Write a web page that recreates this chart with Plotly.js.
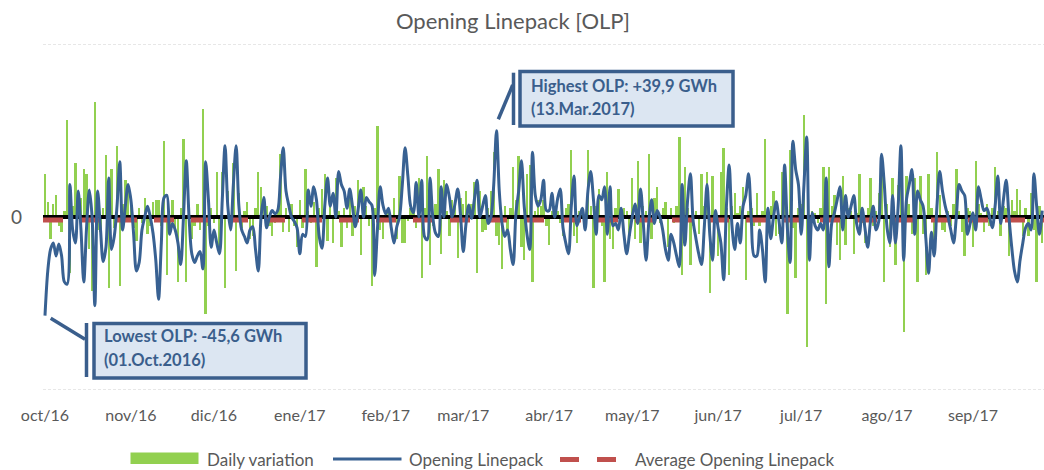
<!DOCTYPE html>
<html><head><meta charset="utf-8">
<script src="https://cdn.plot.ly/plotly-3.0.1.min.js"></script>
<style>html,body{margin:0;padding:0;background:#fff}#chart{width:1044px;height:470px}</style>
</head><body><div id="chart"></div>
<script>
// ---- Opening Linepack (GWh), one value per day from 01.Oct.2016 ----
const olpOct = [-45.6,-25,-15,-12,-18,-12.5,-18,-30,-31,15,-6,-12,12,-6,-30,-5,12.5,0,-41,12,-5,-20.6,-14,18,-15,-9,5,25.5,-6,5,15];
const olpNov = [8,-8,-25,-21,-6,0,5,0,-7.5,-20,-38,-12,9,10,-8,-3,-6,-12,-22,0,26,0,-17,-21,-18,-16,-24,25.5,8,-14];
const olpDec = [-6,-12,-17,8,33,5,-6,15,33,5,-6,-9,-12,-6,-4.5,-15,-25,0,9,-5,0,3,1.5,3,18,32,12,5.5,0,-2,-5];
const olpJan = [-17,-8,-9,12.5,5,14,8,-9,-14.5,5,18,5,11,0,21,15,12,4,13,5,-4.5,3,12.5,0,9,7,5.5,-27,-6,14,5.5];
const olpFeb = [1.5,4,-5,-12,-4.5,0,15,32,19,5,2,16,0,17,-9,-10.5,18,0,-7.5,-9,14,0,15,9,0,6,13,1];
const olpMar = [-16,-3,5.5,-0.6,8,17,0,5,10,-3,0,15,39.9,12,-3,-9,-6,-15,-22,1.5,12,26,5,-8,-15,30,10,5,8,17,3];
const olpApr = [3,11,0,8,13,-5,-12,-17,5,19,-4,0,4,-6,12,21,8,-8,10,8,14,-8,14,-4,-3,-6,4,-8,-17,-8];
const olpMay = [0,6,-3,13,-3,-20,-2,8,-3,3,0,-6,-15,-20,-8,-12,-18,-23,15,-13,8,20,-2,-10,-17,-22,-5,15,-8,-20,3];
const olpJun = [-5,-12,-29,5,24,-4,-15,-3,-12,5,10,20,-2,-18,-18,-6,-15,-30,4,-10,0,7,-2,-12,24,-5,-21,35,22,15];
const olpJul = [-8,15,37,-20,2,-4,-6,-3,-6,18,-23,-3,2,8,14,-6,10,0,5,10,-3,-8,4,-5,-14,-2,5,-6,-2,29,15];
const olpAug = [-5,-12,10,-12,5,33,-20,8,15,22,-8,12,8,5,-10,-26,-7,-18,5,21,12,5,0,-6,-12,0,15,12,10,-8,-3];
const olpSep = [2,-6,14,8,3,4,0,-5,5,19,-3,8,17,0,-14,-25,-30,-20,-12,-5,-3,-6,20,5,-8,3];

// ---- Daily variation (GWh) ----
const varOct = [20,7,-10,6,10,-4,-7,3,45,-26,5,25,12,9,22,20,-15,-34,53,-6,-7,4,28.6,-33,22,-5,33,-32,6,17,12];
const varNov = [9,-5,-11,4,-3,9,-8,-4,7,8,8,-4,35,-27,-6,8,-5,-30,4,36,-30,5,-10,-4,6,-6,50,-45,-4,4];
const varDec = [-3,21,-14,21,-33,12,-4,25,-25,11,-5,3,7,-10,-9,4,21,14,9,5,-4,-9,-3,5,29,-7,4,-7,6,-4,-14];
const varJan = [8,-5,22,3,-3,7,-23,4,13,20,-11,6,-12,18,3,-14,4,-5,12,-9,5,17,-17.5,14,5,-4,-32,4,42,-6,-10];
const varFeb = [3,2,-4,9,-10,19,-12,-12,-2,4,3,-5,18,-28,4,28,-22,-4,6,22,-17,17,3,-9,8,6,-19,9];
const varMar = [6,12,4,6,16,-26,12,-7,-6,4,12,30,-9,-13,-24,5,-8,4,23,8,28,-14,-20,20,24,-30,3,8,5,8,-4];
const varApr = [-13,3,5,3,-3,-9,4,6,31,-9,-12,3,2,-6,31,5,-33,5,13,-4,-30,21,-10,-15,4,13,4,4,3,-9];
const varMay = [18,-10,26,-12,5,3,29,-10,9,14,-3,4,7,-14,4,-3,5,37,-27,23,4,-22,-4,3,-8,20,5,21,-35,19,3];
const varJun = [-18,21,32,4,-27,5,11,2,5,14,-29,3,4,-4,11,-4,3,36,-3,5,12,-9,-8,21,6,-45,31,-5,-28,4];
const varJul = [6,47,-60,-2,3,2,-3,4,23,-40,23,5,10,-13,-20,19,-13,4,3,-17,2,20,-3,-12,4,18,-4,3,11,23,-30];
const varAug = [6,-14,18,-22,15,30,-53,19,6,-8,18,-30,19,-8,-27,20,4,-15,30,10,-6,-7,3,-4,6,22,3,-7,-18,4,3];
const varSep = [-14,26,6,2,-7,6,-4,4,23,3,-9,5,4,-18,8,3,13,8,-9,4,-9,11,-6,-30,5,-12];

const averageOLP = -1.4;
const axisLimits = [-80, 80];
const monthTickVals = ['2016-10-01','2016-11-01','2016-12-01','2017-01-01','2017-02-01','2017-03-01','2017-04-01','2017-05-01','2017-06-01','2017-07-01','2017-08-01','2017-09-01'];
const monthTickText = ['oct/16','nov/16','dic/16','ene/17','feb/17','mar/17','abr/17','may/17','jun/17','jul/17','ago/17','sep/17'];
const seriesNames = ['Daily variation','Opening Linepack','Average Opening Linepack'];
const lowestText = ['Lowest OLP: -45,6 GWh','(01.Oct.2016)'];
const highestText = ['Highest OLP: +39,9 GWh','(13.Mar.2017)'];
const chartTitle = 'Opening Linepack [OLP]';

const olp = [].concat(olpOct,olpNov,olpDec,olpJan,olpFeb,olpMar,olpApr,olpMay,olpJun,olpJul,olpAug,olpSep);
const dailyVar = [].concat(varOct,varNov,varDec,varJan,varFeb,varMar,varApr,varMay,varJun,varJul,varAug,varSep);
function dayString(i){ return new Date(Date.UTC(2016,9,1+i)).toISOString().slice(0,10); }
const dates = olp.map((_,i)=>dayString(i));
const xStart = '2016-09-30 06:43', xEnd = '2017-09-26 15:36';

// pixel -> paper helpers for annotations / callouts
const L=43, R=1044, T=44, B=390;
const px = x => (x-L)/(R-L);
const py = y => (B-y)/(B-T);
const boxBlue = '#3a5e8c', grey = '#595959';

const traces = [
  {type:'bar', x:dates, y:dailyVar, name:seriesNames[0], marker:{color:'#92d050'}, width:0.85*86400000, showlegend:false, hoverinfo:'x+y'},
  {type:'scatter', mode:'lines', x:[xStart,xEnd], y:[0,0], line:{color:'#000000', width:4}, showlegend:false, hoverinfo:'skip'},
  {type:'scatter', mode:'lines', x:[xStart,xEnd], y:[averageOLP,averageOLP], name:seriesNames[2], line:{color:'#c0504d', width:5, dash:'20px,17px'}, showlegend:false},
  {type:'scatter', mode:'lines', x:dates, y:olp, name:seriesNames[1], line:{color:'#386192', width:3, shape:'spline', smoothing:0.9}, showlegend:false}
];

const shapes = [
  // dashed gridlines at the axis limits
  {type:'line', layer:'below', xref:'paper', yref:'y', x0:0, x1:1, y0:axisLimits[1], y1:axisLimits[1], line:{color:'#d0d0d0', width:1.2, dash:'3px,2px'}},
  {type:'line', layer:'below', xref:'paper', yref:'y', x0:0, x1:1, y0:axisLimits[0], y1:axisLimits[0], line:{color:'#d0d0d0', width:1.2, dash:'3px,2px'}},
  // low callout
  {type:'line', xref:'paper', yref:'paper', x0:px(50.7), y0:py(318.3), x1:px(85), y1:py(339.3), line:{color:boxBlue, width:3.5}},
  {type:'line', xref:'paper', yref:'paper', x0:px(86.5), y0:py(323), x1:px(86.5), y1:py(377), line:{color:boxBlue, width:3.5}},
  {type:'rect', xref:'paper', yref:'paper', x0:px(94), y0:py(378), x1:px(306), y1:py(323.5), fillcolor:'#dce6f2', line:{color:boxBlue, width:3.5}},
  // high callout
  {type:'line', xref:'paper', yref:'paper', x0:px(498.3), y0:py(119.3), x1:px(512.7), y1:py(85), line:{color:boxBlue, width:3.5}},
  {type:'line', xref:'paper', yref:'paper', x0:px(513.5), y0:py(72.7), x1:px(513.5), y1:py(125), line:{color:boxBlue, width:3.5}},
  {type:'rect', xref:'paper', yref:'paper', x0:px(520), y0:py(126), x1:px(733), y1:py(71.5), fillcolor:'#dce6f2', line:{color:boxBlue, width:3.5}},
  // legend symbols
  {type:'rect', xref:'paper', yref:'paper', x0:px(130.5), y0:py(464), x1:px(198.5), y1:py(452.5), fillcolor:'#92d050', line:{width:0}},
  {type:'line', xref:'paper', yref:'paper', x0:px(333), y0:py(459), x1:px(401.5), y1:py(459), line:{color:'#386192', width:3}},
  {type:'line', xref:'paper', yref:'paper', x0:px(560), y0:py(459.5), x1:px(579), y1:py(459.5), line:{color:'#c0504d', width:5}},
  {type:'line', xref:'paper', yref:'paper', x0:px(597), y0:py(459.5), x1:px(616), y1:py(459.5), line:{color:'#c0504d', width:5}}
];

const calloutFont = {family:'Lato, sans-serif', size:16.5, color:boxBlue, weight:'bold'};
const legendFont = {family:'Lato, sans-serif', size:17, color:grey};
const ann = (x,y,text,font)=>({xref:'paper', yref:'paper', x:px(x), y:py(y), text:text, showarrow:false, xanchor:'left', yanchor:'middle', font:font});
const annotations = [
  ann(102, 336, lowestText[0], calloutFont),
  ann(102, 359.5, lowestText[1], calloutFont),
  ann(528.5, 86.5, highestText[0], calloutFont),
  ann(528.5, 109, highestText[1], calloutFont),
  ann(205, 459, seriesNames[0], legendFont),
  ann(407, 459, seriesNames[1], legendFont),
  ann(633, 459, seriesNames[2], legendFont)
];

const layout = {
  width:1044, height:470,
  margin:{l:L, r:1044-R, t:T, b:470-B, pad:0},
  paper_bgcolor:'#ffffff', plot_bgcolor:'#ffffff',
  showlegend:false,
  bargap:0,
  title:{text:chartTitle, x:513/1044, xref:'container', xanchor:'center', y:1-21/470, yref:'container', yanchor:'middle', font:{family:'Lato, sans-serif', size:22, color:grey}},
  xaxis:{type:'date', range:[xStart,xEnd], tickvals:monthTickVals, ticktext:monthTickText, showgrid:false, zeroline:false, showline:false, ticks:'', ticklabelstandoff:14, tickfont:{family:'Lato, sans-serif', size:16, color:grey}, fixedrange:true},
  yaxis:{range:axisLimits, tickvals:[0], ticktext:['0'], showgrid:false, zeroline:false, showline:false, ticks:'', ticklabelstandoff:20, tickfont:{family:'Lato, sans-serif', size:19, color:grey}, fixedrange:true},
  shapes:shapes,
  annotations:annotations
};
Plotly.newPlot('chart', traces, layout, {displayModeBar:false, staticPlot:true});
</script></body></html>
